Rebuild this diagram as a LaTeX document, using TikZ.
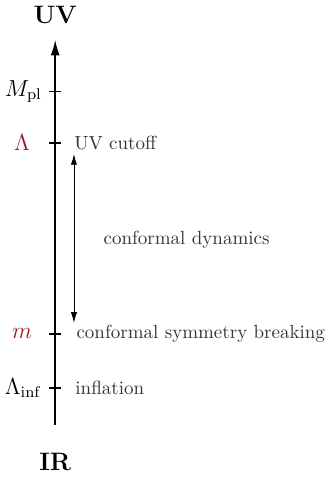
\documentclass[tikz,border=0pt]{standalone}
\usepackage{amsmath}
\usepackage{amsfonts}
\usepackage{tikz}
\usetikzlibrary{arrows.meta}
\definecolor{scalered}{RGB}{150,25,40}
\tikzset{scalelabel/.style={anchor=west, inner sep=0pt, text=black!80, font=\fontsize{9.8}{12}\selectfont}}

\begin{document}
\begin{tikzpicture}
	\useasboundingbox (0,0) rectangle (5.907,8.661);
	% Define coordinates
	\coordinate (B) at (1,0.96);
	\coordinate (T) at (1,7.94);
	\coordinate (Mpl) at (1,7.0);
	\coordinate (L) at (1,6.07);
	\coordinate (m) at (1,2.61);
	\coordinate (Linf) at (1,1.63);
	\coordinate (A1) at (1.34,5.87);
	\coordinate (A2) at (1.34,2.81);
	
	% Energy axis
	\draw[-{Latex[length=8pt,width=4.6pt]},thick] (B) -- (T);
	\node at (1,8.39) {\fontsize{13}{15}\selectfont\bfseries UV};
	\node at (1,0.29) {\fontsize{13}{15}\selectfont\bfseries IR};
	
	% Ticks and scales
	\foreach \p in {Mpl,L,m,Linf}
		\draw[thick] (\p) ++(-0.11,0) -- ++(0.22,0);
	\node[anchor=east] at (0.88,7.0) {\large $M_{\mathrm{pl}}$};
	\node[scalered] at (0.40,6.07) {\large $\Lambda$};
	\node[scalelabel] at (1.34,6.07) {UV cutoff};
	\node[scalered] at (0.40,2.61) {\large $m$};
	\node[scalelabel] at (1.38,2.61) {conformal symmetry breaking};
	\node[anchor=east] at (0.88,1.63) {\large $\Lambda_{\mathrm{inf}}$};
	\node[scalelabel] at (1.36,1.63) {inflation};
	
	% Conformal window
	\draw[{Latex[length=5.5pt,width=3.2pt]}-{Latex[length=5.5pt,width=3.2pt]}] (A1) -- (A2);
	\node[scalelabel] at (1.87,4.31) {conformal dynamics};
\end{tikzpicture}
\end{document}
